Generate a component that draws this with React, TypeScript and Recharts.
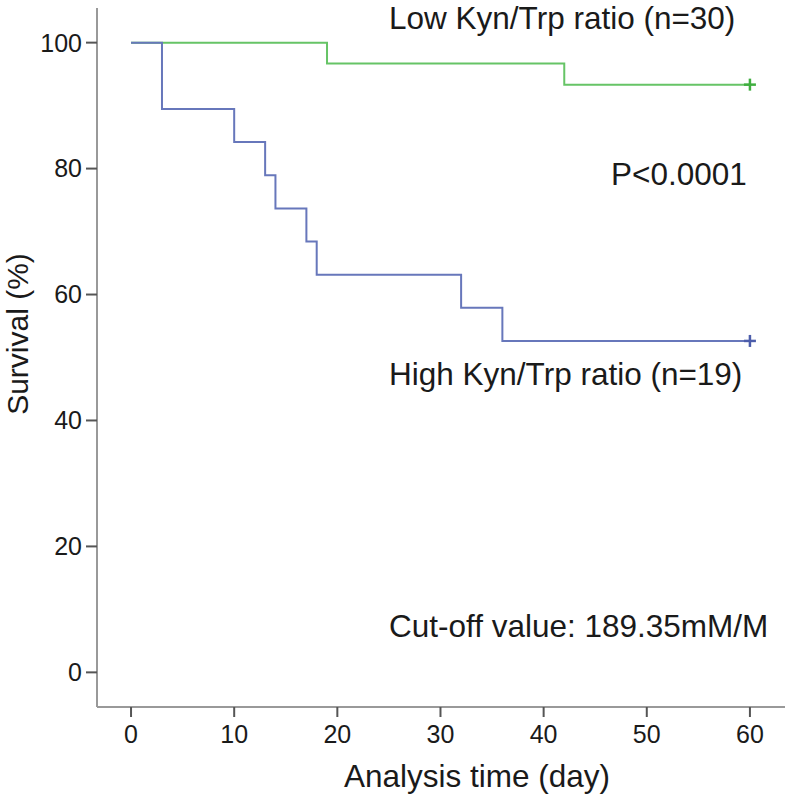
import { LineChart, Line, XAxis, YAxis, Customized } from 'recharts';

// Kaplan-Meier estimates
const lowTimes = [0, 19, 42, 60];
const lowSurvival = [100, 96.67, 93.33, 93.33];
const highTimes = [0, 3, 10, 13, 14, 17, 18, 32, 36, 60];
const highSurvival = [100, 89.47, 84.21, 78.95, 73.68, 68.42, 63.16, 57.89, 52.63, 52.63];

const xTicks = [0, 10, 20, 30, 40, 50, 60];
const yTicks = [0, 20, 40, 60, 80, 100];

const lowLabel = 'Low Kyn/Trp ratio (n=30)';
const highLabel = 'High Kyn/Trp ratio (n=19)';
const pLabel = 'P<0.0001';
const cutoffLabel = 'Cut-off value: 189.35mM/M';
const xTitle = 'Analysis time (day)';
const yTitle = 'Survival (%)';

const lowData = lowTimes.map((t, i) => ({ t, s: lowSurvival[i] }));
const highData = highTimes.map((t, i) => ({ t, s: highSurvival[i] }));

const FONT = '"Liberation Sans", Arial, sans-serif';

const censorDot = (color: string, lastIndex: number) => (props: any) => {
  const { cx, cy, index } = props;
  if (index !== lastIndex) return <g key={`d-${index}`} />;
  return (
    <g key={`d-${index}`}>
      <line x1={cx - 6} x2={cx + 6} y1={cy} y2={cy} stroke={color} strokeWidth={2.5} />
      <line x1={cx} x2={cx} y1={cy - 6} y2={cy + 6} stroke={color} strokeWidth={2.5} />
    </g>
  );
};

const Annotations = () => (
  <g fontFamily={FONT} fill="#1a1a1a" fontSize={31.5}>
    <text x={389} y={29}>{lowLabel}</text>
    <text x={611} y={185}>{pLabel}</text>
    <text x={389} y={385}>{highLabel}</text>
    <text x={389} y={637}>{cutoffLabel}</text>
    <text x={477} y={787} textAnchor="middle">{xTitle}</text>
    <text x={28} y={334} fontSize={30} textAnchor="middle" transform="rotate(-90 28 334)">{yTitle}</text>
  </g>
);

export default function App() {
  const tickStyle = { fill: '#1a1a1a', fontSize: 25, fontFamily: FONT };
  return (
    <div style={{ position: 'absolute', left: 0, top: 0, background: '#fff' }}>
      <LineChart width={787} height={795} margin={{ top: 8, right: 2, bottom: 8, left: 0 }}>
        <XAxis
          type="number"
          dataKey="t"
          domain={[-3.3, 63.4]}
          ticks={xTicks}
          allowDataOverflow
          height={80}
          tickSize={10}
          tickMargin={8}
          axisLine={{ stroke: '#999', strokeWidth: 2 }}
          tickLine={{ stroke: '#555', strokeWidth: 2 }}
          tick={tickStyle}
        />
        <YAxis
          type="number"
          dataKey="s"
          domain={[-5.5, 105.5]}
          ticks={yTicks}
          allowDataOverflow
          width={97}
          tickSize={11}
          tickMargin={4}
          axisLine={{ stroke: '#999', strokeWidth: 2 }}
          tickLine={{ stroke: '#555', strokeWidth: 2 }}
          tick={tickStyle}
        />
        <Line
          data={lowData}
          dataKey="s"
          type="stepAfter"
          stroke="#66c466"
          strokeWidth={2}
          dot={censorDot('#3fae3f', lowData.length - 1)}
          activeDot={false}
          isAnimationActive={false}
        />
        <Line
          data={highData}
          dataKey="s"
          type="stepAfter"
          stroke="#6777bb"
          strokeWidth={2}
          dot={censorDot('#4c5dab', highData.length - 1)}
          activeDot={false}
          isAnimationActive={false}
        />
        <Customized component={Annotations} />
      </LineChart>
    </div>
  );
}
